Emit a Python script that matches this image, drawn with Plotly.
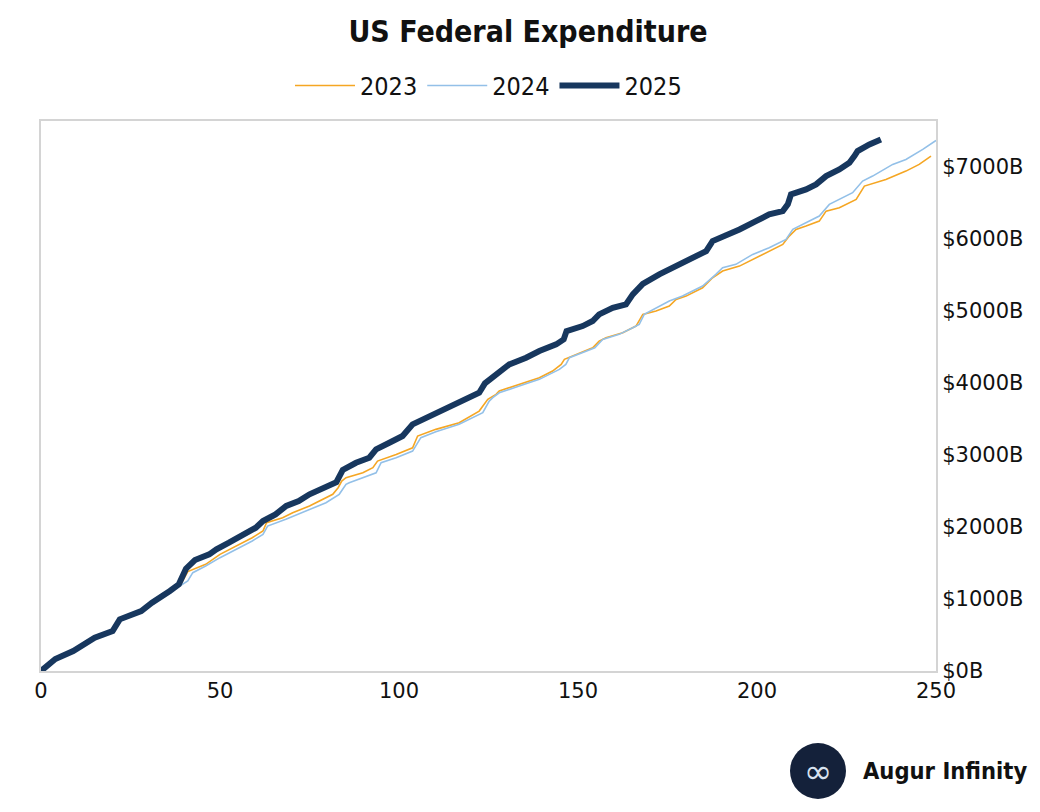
import plotly.graph_objects as go

# ---- data ----
days_2025 = [0, 4, 9, 12, 15, 20, 22, 28, 31, 36, 38.5, 40.5, 43, 47, 49, 52.5, 57, 60, 62,
             65.5, 68.5, 72, 75, 79.5, 82.5, 84.3, 88, 91.7, 93.6, 97.3, 101, 103.8, 108.5,
             112.2, 115.9, 119.6, 122.4, 124, 127, 130.8, 135.5, 139.2, 143.9, 146, 146.8,
             151.3, 154.1, 155.9, 159.7, 163.4, 165.3, 168.1, 172.7, 177.4, 182, 185.8, 187.6,
             191.3, 195.1, 199.7, 203.4, 207.2, 208.6, 209.5, 213.7, 216.5, 219.3, 223, 225.8,
             227.2, 228.1, 231.4, 234.6]
vals_2025 = [0, 166, 277, 370, 462, 555, 717, 832, 947, 1110, 1202, 1420, 1540, 1618, 1688,
             1780, 1896, 1988, 2081, 2173, 2289, 2358, 2451, 2566, 2620, 2790, 2889, 2959, 3075,
             3167, 3260, 3422, 3537, 3606, 3699, 3791, 3860, 3990, 4115, 4254, 4346, 4439, 4531,
             4600, 4716, 4785, 4855, 4947, 5039, 5086, 5225, 5370, 5502, 5617, 5733, 5825, 5964,
             6033, 6126, 6241, 6334, 6380, 6473, 6612, 6681, 6751, 6866, 6958, 7051, 7143, 7213,
             7305, 7375]

days_2023 = [0, 4, 9, 12, 15, 20, 22, 28, 31, 36, 39, 41, 42.4, 46, 50, 54.5, 59, 62, 63,
             67.5, 70.3, 75, 78.7, 81.5, 83, 84, 85.2, 89.9, 92.7, 94, 99.2, 103.8, 105.2, 110.3,
             116.8, 122.4, 124.8, 127.1, 128, 133.6, 139.2, 142.9, 145.3, 146.2, 150.4, 154.1,
             155.9, 157.8, 162.5, 166.2, 168.1, 171.8, 175.5, 177.4, 180.2, 184.8, 187.6, 190.4,
             195.1, 199.7, 203.4, 207.2, 209, 210.9, 213.7, 217.4, 219.3, 223, 227.7, 230, 236,
             241.6, 245.3, 248.6]
vals_2023 = [0, 160, 270, 360, 455, 545, 700, 825, 940, 1100, 1200, 1380, 1410, 1480, 1618,
             1734, 1849, 1942, 2057, 2126, 2196, 2289, 2381, 2451, 2543, 2635, 2681, 2750, 2820,
             2912, 3005, 3097, 3260, 3352, 3445, 3606, 3768, 3838, 3884, 3976, 4069, 4161, 4254,
             4323, 4415, 4485, 4577, 4623, 4692, 4785, 4947, 4993, 5062, 5155, 5201, 5317, 5455,
             5548, 5617, 5733, 5825, 5918, 6033, 6126, 6172, 6241, 6380, 6426, 6542, 6727, 6820,
             6935, 7028, 7143]

days_2024 = [0, 4, 9, 12, 15, 20, 22, 28, 31, 36, 39, 41, 42.4, 46, 50, 55.4, 59, 62, 63.3,
             68.4, 75, 79.6, 83.3, 85.2, 86.1, 89.9, 93.6, 95, 99.2, 103.8, 106.1, 110.3, 116.8,
             123.4, 125.2, 126.2, 128, 133.6, 139.2, 144.8, 146.6, 147.6, 152.2, 154.7, 156.9,
             161.5, 165.3, 167.1, 168.5, 171.8, 175.5, 179.2, 184.8, 188.5, 190.4, 194.1, 198.8,
             203.4, 208.1, 210, 217.4, 220.2, 223, 226.7, 229.5, 232.3, 237.9, 241.6, 246.3,
             249.5, 250]
vals_2024 = [0, 155, 265, 355, 450, 540, 690, 815, 930, 1090, 1190, 1250, 1364, 1456, 1572,
             1711, 1803, 1896, 2011, 2104, 2243, 2335, 2451, 2589, 2612, 2681, 2750, 2889, 2959,
             3051, 3237, 3318, 3422, 3583, 3745, 3791, 3860, 3953, 4046, 4184, 4254, 4346, 4439,
             4485, 4600, 4670, 4762, 4808, 4947, 5039, 5132, 5201, 5340, 5502, 5594, 5641, 5779,
             5871, 5988, 6126, 6311, 6473, 6542, 6635, 6797, 6866, 7028, 7097, 7236, 7342, 7360]

x_ticks = [0, 50, 100, 150, 200, 250]
y_ticks = [0, 1000, 2000, 3000, 4000, 5000, 6000, 7000]
y_tick_labels = ["$" + str(v) + "B" for v in y_ticks]

TICK_FONT = "DejaVu Sans"
COND = "DejaVu Sans Condensed"

fig = go.Figure()
fig.add_trace(go.Scatter(x=days_2023, y=vals_2023, mode="lines", name="2023",
                         line=dict(color="#F5A623", width=1.6)))
fig.add_trace(go.Scatter(x=days_2024, y=vals_2024, mode="lines", name="2024",
                         line=dict(color="#93C0E8", width=1.6)))
fig.add_trace(go.Scatter(x=days_2025, y=vals_2025, mode="lines", name="2025",
                         line=dict(color="#17375E", width=6)))

fig.update_layout(
    width=1040, height=812,
    margin=dict(l=33, r=112, t=113, b=149),
    paper_bgcolor="white", plot_bgcolor="white",
    font=dict(family=TICK_FONT, color="#111111", size=21),
    title=dict(text="<b>US Federal Expenditure</b>", x=0.5, xanchor="center",
               y=0.971, yref="container", yanchor="middle",
               font=dict(family=COND, size=30, color="#111111")),
    legend=dict(orientation="h", x=0.5, xanchor="center", y=1.064, yanchor="middle",
                font=dict(family=COND, size=25), itemwidth=60, traceorder="normal"),
    showlegend=True,
)
fig.update_xaxes(range=[0, 250], tickvals=x_ticks, showgrid=False, zeroline=False,
                 showline=True, linecolor="#D4D4D4", linewidth=2, mirror=True,
                 ticks="", tickfont=dict(family=TICK_FONT, size=21))
fig.update_yaxes(range=[0, 7630], tickvals=y_ticks, ticktext=y_tick_labels, side="right",
                 showgrid=False, zeroline=False, showline=True, linecolor="#D4D4D4",
                 linewidth=2, mirror=True, ticks="",
                 tickfont=dict(family=TICK_FONT, size=21))

# logo
fig.add_shape(type="circle", xref="paper", yref="paper",
              x0=(789 - 40) / 895, x1=(845 - 40) / 895,
              y0=(670 - 798) / 550, y1=(670 - 742) / 550,
              fillcolor="#14213A", line=dict(width=0))
fig.add_annotation(xref="paper", yref="paper", x=(817 - 40) / 895, y=(670 - 770) / 550,
                   text="∞", showarrow=False, xanchor="center", yanchor="middle",
                   font=dict(family="DejaVu Sans", size=34, color="#D8E2F0"))
fig.add_annotation(xref="paper", yref="paper", x=(860 - 40) / 895, y=(670 - 770) / 550,
                   text="<b>Augur Infinity</b>", showarrow=False, xanchor="left",
                   yanchor="middle", font=dict(family=COND, size=23.5, color="#111111"))

fig.write_html("out.html")
